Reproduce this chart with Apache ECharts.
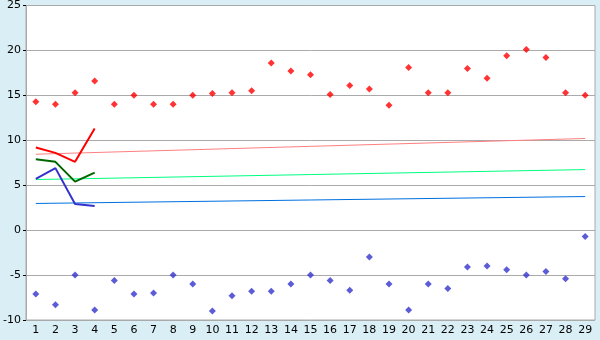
<!DOCTYPE html>
<html>
<head>
<meta charset="utf-8">
<script src="https://cdn.jsdelivr.net/npm/echarts@6/dist/echarts.min.js"></script>
<style>
html,body{margin:0;padding:0;background:#daeff5;}
#c{width:600px;height:340px;}
</style>
</head>
<body>
<div id="c"></div>
<script>
var categories = ['1','2','3','4','5','6','7','8','9','10','11','12','13','14','15','16','17','18','19','20','21','22','23','24','25','26','27','28','29'];
var maxPoints = [14.3,14.0,15.3,16.6,14.0,15.0,14.0,14.0,15.0,15.2,15.3,15.5,18.6,17.7,17.3,15.1,16.1,15.7,13.9,18.1,15.3,15.3,18.0,16.9,19.4,20.1,19.2,15.3,15.0];
var minPoints = [-7.1,-8.3,-5.0,-8.9,-5.6,-7.1,-7.0,-5.0,-6.0,-9.0,-7.3,-6.8,-6.8,-6.0,-5.0,-5.6,-6.7,-3.0,-6.0,-8.9,-6.0,-6.5,-4.1,-4.0,-4.4,-5.0,-4.6,-5.4,-0.7];
var redLine = [9.2,8.6,7.6,11.3];
var greenLine = [7.9,7.6,5.4,6.4];
var blueLine = [5.7,6.9,2.9,2.7];
var redTrend = [8.45,10.2];
var greenTrend = [5.63,6.74];
var blueTrend = [2.97,3.74];
var yTicks = [-10,-5,0,5,10,15,20,25];

var chart = echarts.init(document.getElementById('c'), null, {renderer:'canvas'});
var last = categories.length - 1;
function trend(v){ return [[0, v[0]], [last, v[1]]]; }
var font = {fontFamily:'DejaVu Sans', fontSize:11, color:'#000'};
chart.setOption({
  animation:false,
  backgroundColor:'#daeff5',
  grid:{left:26,right:5,top:5,bottom:20,show:true,backgroundColor:'#fff',borderColor:'#aaa',borderWidth:1},
  xAxis:{type:'category',data:categories,boundaryGap:true,
    axisLine:{lineStyle:{color:'#aaa'}},
    axisTick:{alignWithLabel:true,length:5,lineStyle:{color:'#000'}},
    axisLabel:Object.assign({margin:5,interval:0},font),
    splitLine:{show:false}},
  yAxis:{type:'value',min:yTicks[0],max:yTicks[yTicks.length-1],interval:5,
    axisLine:{show:true,lineStyle:{color:'#aaa'}},
    axisTick:{show:true,length:3,lineStyle:{color:'#000'}},
    axisLabel:Object.assign({margin:5},font),
    splitLine:{lineStyle:{color:'#aaa'}}},
  series:[
    {type:'line',data:trend(redTrend),symbol:'none',lineStyle:{color:'#ff8080',width:1},z:2},
    {type:'line',data:trend(greenTrend),symbol:'none',lineStyle:{color:'#00ff80',width:1},z:2},
    {type:'line',data:trend(blueTrend),symbol:'none',lineStyle:{color:'#0070e0',width:1},z:2},
    {type:'line',data:redLine,symbol:'none',lineStyle:{color:'#ff0000',width:2},z:3},
    {type:'line',data:greenLine,symbol:'none',lineStyle:{color:'#006600',width:2},z:3},
    {type:'line',data:blueLine,symbol:'none',lineStyle:{color:'#3333cc',width:2},z:3},
    {type:'scatter',data:maxPoints,symbol:'diamond',symbolSize:7,itemStyle:{color:'#ff0000'},z:4},
    {type:'scatter',data:minPoints,symbol:'diamond',symbolSize:7,itemStyle:{color:'#3333cc'},z:4}
  ]
});
</script>
</body>
</html>
